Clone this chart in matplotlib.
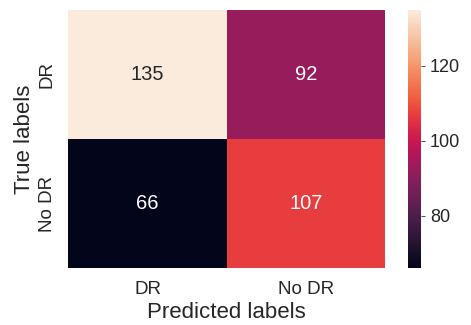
import numpy as np
import matplotlib
matplotlib.use('Agg')
import matplotlib.pyplot as plt
import seaborn as sns

labels = ['DR', 'No DR']
cm = np.array([[135, 92],
               [66, 107]])

sns.set_theme(style='white', font_scale=1.0)
plt.rcParams['font.family'] = ['Liberation Sans', 'DejaVu Sans']

fig = plt.figure(figsize=(4.71, 3.25), dpi=100)
ax = fig.add_axes([0.145, 0.175, 0.673, 0.795])
cax = fig.add_axes([0.866, 0.175, 0.028, 0.795])

sns.heatmap(cm, annot=True, fmt='d', cmap='rocket', ax=ax, cbar_ax=cax,
            annot_kws={'size': 14.5}, xticklabels=labels, yticklabels=labels)

ax.set_xlabel('Predicted labels', fontsize=16, labelpad=3)
ax.set_ylabel('True labels', fontsize=16, labelpad=3)
ax.tick_params(axis='both', labelsize=13.5, length=0, pad=9)
plt.setp(ax.get_yticklabels(), rotation=90, va='center')
cax.tick_params(labelsize=13, length=3, width=0.8, color='#555555')
cax.set_yticks([80, 100, 120])

fig.savefig('out.png', dpi=100)
